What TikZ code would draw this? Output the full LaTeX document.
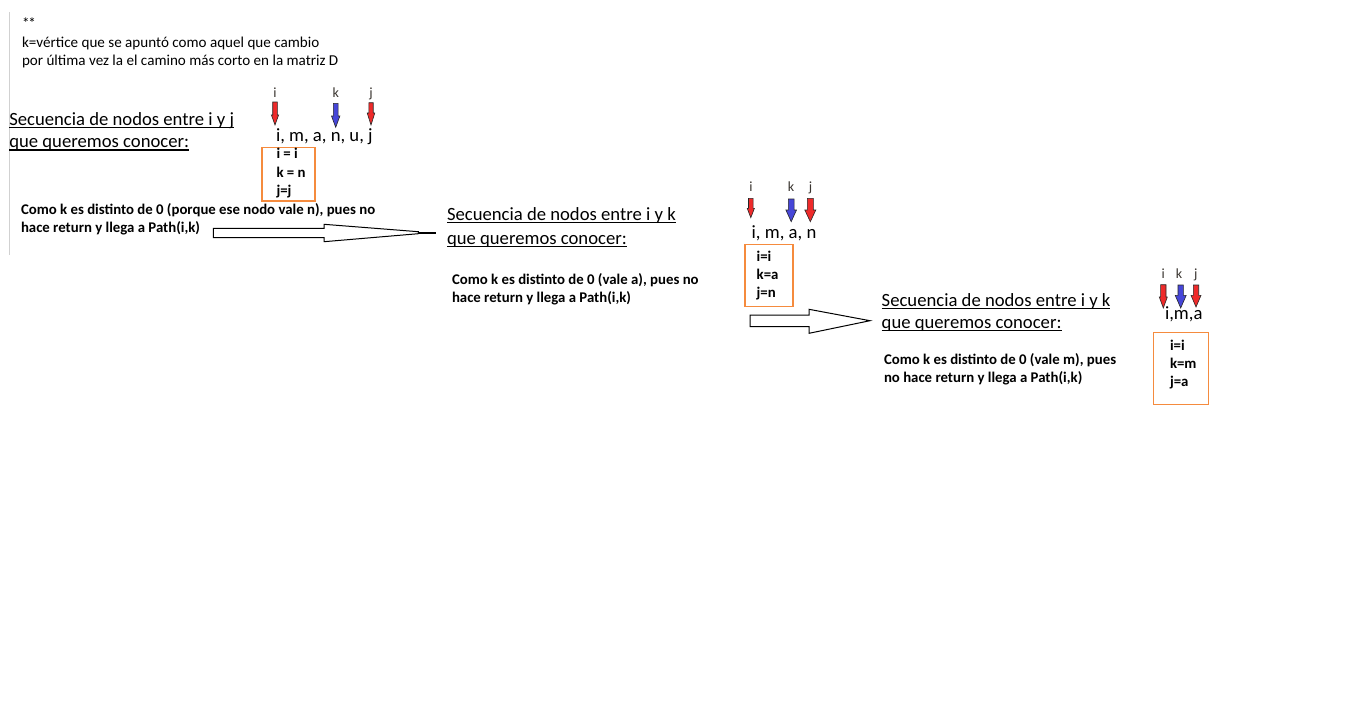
\documentclass[tikz,border=0pt]{standalone}
\usepackage{fontspec}
\setmainfont{Carlito}
\definecolor{boxorange}{HTML}{F58B3E}
\definecolor{arrred}{HTML}{EE2A2A}
\definecolor{arrblue}{HTML}{4646D8}
\definecolor{labelc}{HTML}{3A3530}
\newcommand\dnarr[7]{% x, ytop, yhead, ytip, shaft half, head half, colour
  \filldraw[fill=#7, draw=black!85, line width=0.6pt]
    ({#1-#5},#2) -- ({#1+#5},#2) -- ({#1+#5},#3) -- ({#1+#6},#3) -- (#1,#4)
    -- ({#1-#6},#3) -- ({#1-#5},#3) -- cycle;}
\tikzset{
  txt/.style={anchor=base west, inner sep=0pt, outer sep=0pt},
  small/.style={txt, font=\fontsize{15.1}{17}\selectfont},
  big/.style={txt, font=\fontsize{18.67}{22}\selectfont},
  boldt/.style={txt, font=\fontsize{14.8}{16}\selectfont\bfseries},
  lbl/.style={anchor=base, inner sep=0pt, outer sep=0pt, font=\fontsize{14}{16}\selectfont, text=labelc},
  obox/.style={draw=boxorange, line width=1.2pt},
  hollow/.style={draw=black, line width=1pt, fill=white, line join=miter},
  uline/.style={line width=1.2pt},
}
\begin{document}
\begin{tikzpicture}[x=1pt,y=-1pt]
\useasboundingbox (0,0) rectangle (1351,704);
\fill[white] (0,0) rectangle (1351,704);

% left margin line
\draw[black!18, line width=1pt] (9.5,12) -- (9.5,255);

% note at top
\node[small] (n0) at (22,28.5) {*\kern-1.2pt*};
\node[small] (n1) at (22,47) {k=vértice que se apuntó como aquel que cambio};
\node[small] (n2) at (22,65.5) {por última vez la el camino más corto en la matriz D};

% ---------------- group 1 ----------------
\node[big] (s1a) at (9.3,125) {Secuencia de nodos entre i y j};
\node[big] (s1b) at (9.3,147.7) {que queremos conocer:};
\draw[uline] ([yshift=-2.3pt]s1a.base west) -- ([yshift=-2.3pt]s1a.base east);
\draw[uline] ([yshift=-2.3pt]s1b.base west) -- ([yshift=-2.3pt]s1b.base east);

\node[lbl] (l1i) at (275,97) {i};
\node[lbl] (l1k) at (335.7,97) {k};
\node[lbl] (l1j) at (371,97) {j};
\dnarr{275}{102}{115}{125}{2.3}{3.6}{arrred}
\dnarr{335.7}{103.3}{116}{127.3}{2.4}{4.2}{arrblue}
\dnarr{371}{102.7}{113}{125}{2.2}{3.8}{arrred}
\node[big] (q1) at (276,141.5) {i, m, a, n, u, j};

\draw[obox] (262,147.7) rectangle (315,201);
\node[boldt] (b1a) at (276.5,158.5) {i = i};
\node[boldt] (b1b) at (276.5,177) {k = n};
\node[boldt] (b1c) at (276.5,195) {j=j};

\node[boldt] (c1a) at (21,214) {Como k es distinto de 0 (porque ese nodo vale n), pues no};
\node[boldt] (c1b) at (21,232.5) {hace return y llega a Path(i,k)};

\draw[hollow] (213.3,228.3) -- (324,228.3) -- (324,224.3) -- (418.3,231.7)
  -- (418.3,233.7) -- (324,241.7) -- (324,237.7) -- (213.3,237.7) -- cycle;
\draw[line width=2pt] (418,232.7) -- (436,232.7);

% ---------------- group 2 ----------------
\node[big] (s2a) at (447,220.3) {Secuencia de nodos entre i y k};
\node[big] (s2b) at (447,244.5) {que queremos conocer:};
\draw[uline] ([yshift=-2.3pt]s2a.base west) -- ([yshift=-2.3pt]s2a.base east);
\draw[uline] ([yshift=-2.3pt]s2b.base west) -- ([yshift=-2.3pt]s2b.base east);

\node[lbl] (l2i) at (751,191.7) {i};
\node[lbl] (l2k) at (791,191.7) {k};
\node[lbl] (l2j) at (810.5,191.7) {j};
\dnarr{750.8}{198.3}{208.3}{217.7}{2.3}{3.6}{arrred}
\dnarr{791.2}{199}{210}{221.7}{2.9}{5.3}{arrblue}
\dnarr{810.3}{198.3}{210}{221.7}{3}{5.5}{arrred}
\node[big] (q2) at (751.7,238) {i, m, a, n};

\draw[obox] (745,244.3) rectangle (793,306.7);
\node[boldt] (b2a) at (756.7,261) {i=i};
\node[boldt] (b2b) at (756.7,279) {k=a};
\node[boldt] (b2c) at (756.7,297) {j=n};

\node[boldt] (c2a) at (452,284) {Como k es distinto de 0 (vale a), pues no};
\node[boldt] (c2b) at (452,302) {hace return y llega a Path(i,k)};

\draw[hollow] (750,315) -- (809,315) -- (809,309.3) -- (870,320.7)
  -- (809,333.3) -- (809,326.7) -- (750,326.7) -- cycle;

% ---------------- group 3 ----------------
\node[big] (s3a) at (881.7,306) {Secuencia de nodos entre i y k};
\node[big] (s3b) at (881.7,328) {que queremos conocer:};
\draw[uline] ([yshift=-2.3pt]s3a.base west) -- ([yshift=-2.3pt]s3a.base east);
\draw[uline] ([yshift=-2.3pt]s3b.base west) -- ([yshift=-2.3pt]s3b.base east);

\node[lbl] (l3i) at (1163.3,278) {i};
\node[lbl] (l3k) at (1179,278) {k};
\node[lbl] (l3j) at (1195.7,278) {j};
\dnarr{1163.3}{284.7}{297}{308}{2.7}{4}{arrred}
\dnarr{1180.7}{285}{295.3}{308}{2.7}{5.5}{arrblue}
\dnarr{1196}{285}{295.3}{307}{2.7}{5}{arrred}
\node[big] (q3) at (1165,319.5) {i,m,a};

\draw[obox] (1153.3,332.7) rectangle (1208.3,404.3);
\node[boldt] (b3a) at (1170,350) {i=i};
\node[boldt] (b3b) at (1170,368) {k=m};
\node[boldt] (b3c) at (1170,386) {j=a};

\node[boldt] (c3a) at (884,364) {Como k es distinto de 0 (vale m), pues};
\node[boldt] (c3b) at (884,382) {no hace return y llega a Path(i,k)};
\end{tikzpicture}
\end{document}
